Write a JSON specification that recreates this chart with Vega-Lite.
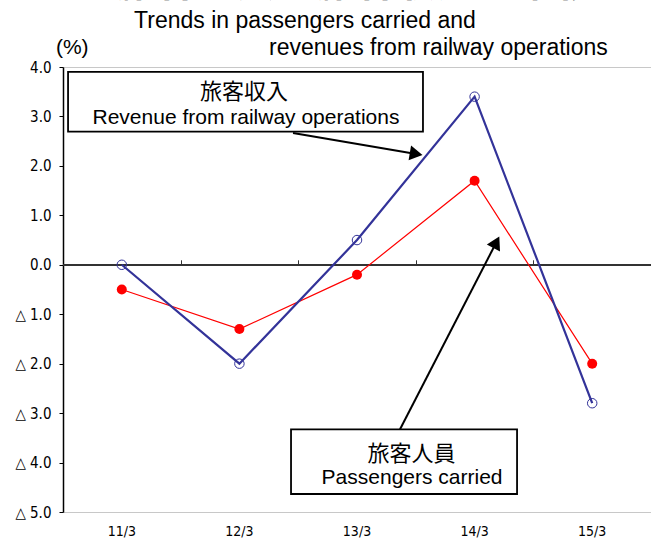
{
  "$schema": "https://vega.github.io/schema/vega-lite/v6.json",
  "autosize": "none",
  "width": 588,
  "height": 445,
  "padding": {"left": 63, "top": 67, "right": 0, "bottom": 27},
  "background": "white",
  "config": {
    "view": {"stroke": "#c8c8c8", "strokeWidth": 1},
    "axis": {"grid": false}
  },
  "layer": [
    {
      "data": {"values": [
        {"period": "11/3", "series": "Revenue", "value": 0.0},
        {"period": "12/3", "series": "Revenue", "value": -2.0},
        {"period": "13/3", "series": "Revenue", "value": 0.5},
        {"period": "14/3", "series": "Revenue", "value": 3.4},
        {"period": "15/3", "series": "Revenue", "value": -2.8},
        {"period": "11/3", "series": "Passengers", "value": -0.5},
        {"period": "12/3", "series": "Passengers", "value": -1.3},
        {"period": "13/3", "series": "Passengers", "value": -0.2},
        {"period": "14/3", "series": "Passengers", "value": 1.7},
        {"period": "15/3", "series": "Passengers", "value": -2.0}
      ]},
      "resolve": {"axis": {"x": "independent"}},
      "layer": [
        {
          "mark": {"type": "rule", "strokeOpacity": 0},
          "encoding": {
            "x": {"field": "period", "type": "ordinal", "sort": null,
              "scale": {"type": "band", "paddingInner": 0, "paddingOuter": 0},
              "axis": {"orient": "top", "offset": -197.8, "labels": false, "domain": false, "ticks": true, "tickBand": "extent", "tickSize": 5, "tickColor": "#333333", "tickWidth": 1, "title": null}
            }
          }
        },
        {
          "mark": {"type": "rule", "color": "#333333", "strokeWidth": 1.2},
          "encoding": {
            "y": {"datum": 0, "type": "quantitative", "scale": {"domain": [-5, 4], "nice": false, "zero": false}}
          }
        },
        {
          "transform": [{"filter": "datum.series === 'Passengers'"}],
          "mark": {"type": "line", "color": "#ff0000", "strokeWidth": 1.2},
          "encoding": {
            "x": {"field": "period", "type": "ordinal", "sort": null, "bandPosition": 0.5,
              "scale": {"type": "band", "paddingInner": 0, "paddingOuter": 0},
              "axis": {"orient": "bottom", "domain": false, "ticks": false, "labelAngle": 0, "labelPadding": 12, "labelFontSize": 14, "labelFont": "Liberation Sans Narrow, DejaVu Sans Condensed, Liberation Sans", "labelColor": "#000000", "title": null}
            },
            "y": {"field": "value", "type": "quantitative",
              "scale": {"domain": [-5, 4], "nice": false, "zero": false},
              "axis": {"values": [-5, -4, -3, -2, -1, 0, 1, 2, 3, 4], "labelExpr": "datum.value < 0 ? '△ ' + format(-datum.value, '.1f') : format(datum.value, '.1f')", "domainColor": "#000000", "domainWidth": 1.5, "tickColor": "#000000", "tickSize": 4, "labelPadding": 8, "labelFontSize": 15, "labelFont": "Liberation Sans Narrow, DejaVu Sans Condensed, Liberation Sans", "labelColor": "#000000", "title": null}
            }
          }
        },
        {
          "transform": [{"filter": "datum.series === 'Revenue'"}],
          "mark": {"type": "line", "color": "#333399", "strokeWidth": 2.2},
          "encoding": {
            "x": {"field": "period", "type": "ordinal", "sort": null, "bandPosition": 0.5, "scale": {"type": "band", "paddingInner": 0, "paddingOuter": 0}, "axis": null},
            "y": {"field": "value", "type": "quantitative"}
          }
        },
        {
          "transform": [{"filter": "datum.series === 'Passengers'"}],
          "mark": {"type": "point", "shape": "circle", "filled": true, "color": "#ff0000", "size": 100, "opacity": 1},
          "encoding": {
            "x": {"field": "period", "type": "ordinal", "sort": null, "bandPosition": 0.5, "scale": {"type": "band", "paddingInner": 0, "paddingOuter": 0}, "axis": null},
            "y": {"field": "value", "type": "quantitative"}
          }
        },
        {
          "transform": [{"filter": "datum.series === 'Revenue'"}],
          "mark": {"type": "point", "shape": "circle", "filled": false, "color": "#333399", "strokeWidth": 1, "size": 90, "opacity": 1},
          "encoding": {
            "x": {"field": "period", "type": "ordinal", "sort": null, "bandPosition": 0.5, "scale": {"type": "band", "paddingInner": 0, "paddingOuter": 0}, "axis": null},
            "y": {"field": "value", "type": "quantitative"}
          }
        }
      ]
    },
    {
      "layer": [
        {
          "data": {"values": [
            {"from_x": 1.956, "from_y": 2.667, "to_x": 3.003, "to_y": 2.241},
            {"from_x": 2.866, "from_y": -3.327, "to_x": 3.685, "to_y": 0.455}
          ]},
          "mark": {"type": "rule", "color": "#000000", "strokeWidth": 2},
          "encoding": {
            "x": {"field": "from_x", "type": "quantitative", "scale": {"domain": [0, 5], "nice": false, "zero": false}, "axis": null},
            "y": {"field": "from_y", "type": "quantitative", "scale": {"domain": [-5, 4], "nice": false, "zero": false}, "axis": null},
            "x2": {"field": "to_x"},
            "y2": {"field": "to_y"}
          }
        },
        {
          "data": {"values": [
            {"x": 3.003, "y": 2.241, "angle": 99.7},
            {"x": 3.685, "y": 0.455, "angle": 27.3}
          ]},
          "mark": {"type": "point", "shape": "triangle-up", "filled": true, "color": "#000000", "size": 220, "opacity": 1},
          "encoding": {
            "x": {"field": "x", "type": "quantitative"},
            "y": {"field": "y", "type": "quantitative"},
            "angle": {"field": "angle", "type": "quantitative", "scale": null}
          }
        },
        {
          "data": {"values": [
            {"x1": 0.043, "x2": 3.061, "y1": 3.9, "y2": 2.692},
            {"x1": 1.939, "x2": 3.861, "y1": -3.327, "y2": -4.636}
          ]},
          "mark": {"type": "rect", "fill": "#ffffff", "stroke": "#000000", "strokeWidth": 1.8},
          "encoding": {
            "x": {"field": "x1", "type": "quantitative"},
            "x2": {"field": "x2"},
            "y": {"field": "y1", "type": "quantitative"},
            "y2": {"field": "y2"}
          }
        },
        {
          "data": {"values": [
            {"label": "旅客収入", "x": 1.539, "y": 3.353},
            {"label": "旅客人員", "x": 2.963, "y": -3.968}
          ]},
          "mark": {"type": "text", "font": "Noto Sans CJK JP", "fontSize": 22, "align": "center", "baseline": "alphabetic", "color": "#000000"},
          "encoding": {
            "x": {"field": "x", "type": "quantitative"},
            "y": {"field": "y", "type": "quantitative"},
            "text": {"field": "label"}
          }
        },
        {
          "data": {"values": [
            {"label": "Revenue from railway operations", "x": 1.556, "y": 2.848},
            {"label": "Passengers carried", "x": 2.968, "y": -4.424}
          ]},
          "mark": {"type": "text", "font": "Liberation Sans", "fontSize": 21, "align": "center", "baseline": "alphabetic", "color": "#000000"},
          "encoding": {
            "x": {"field": "x", "type": "quantitative"},
            "y": {"field": "y", "type": "quantitative"},
            "text": {"field": "label"}
          }
        },
        {
          "data": {"values": [
            {"label": "Trends in passengers carried and", "x": 0.604, "y": 4.784},
            {"label": "revenues from railway operations", "x": 1.752, "y": 4.244}
          ]},
          "mark": {"type": "text", "font": "Liberation Sans", "fontSize": 23, "align": "left", "baseline": "alphabetic", "color": "#000000"},
          "encoding": {
            "x": {"field": "x", "type": "quantitative"},
            "y": {"field": "y", "type": "quantitative"},
            "text": {"field": "label"}
          }
        },
        {
          "data": {"values": [
            {"label": "(%)", "x": -0.06, "y": 4.264}
          ]},
          "mark": {"type": "text", "font": "Liberation Sans", "fontSize": 21, "align": "left", "baseline": "alphabetic", "color": "#000000"},
          "encoding": {
            "x": {"field": "x", "type": "quantitative"},
            "y": {"field": "y", "type": "quantitative"},
            "text": {"field": "label"}
          }
        },
        {
          "data": {"values": [
            {"label": "旅客人員・旅客収入の推移", "x": 2.49, "y": 5.437}
          ]},
          "mark": {"type": "text", "font": "Noto Sans CJK JP", "fontSize": 40, "fontWeight": "bold", "align": "center", "baseline": "alphabetic", "color": "#000000"},
          "encoding": {
            "x": {"field": "x", "type": "quantitative"},
            "y": {"field": "y", "type": "quantitative"},
            "text": {"field": "label"}
          }
        }
      ]
    }
  ],
  "resolve": {"scale": {"x": "independent", "y": "independent"}}
}
